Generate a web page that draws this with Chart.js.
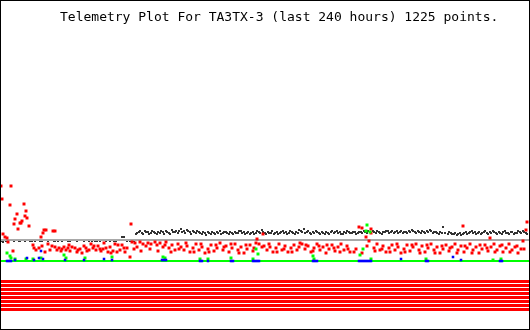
<!DOCTYPE html>
<html>
<head>
<meta charset="utf-8">
<script src="https://cdn.jsdelivr.net/npm/chart.js@4"></script>
<style>
  html, body { margin: 0; padding: 0; background: #fff; }
  #wrap { width: 530px; height: 330px; }
</style>
</head>
<body>
<div id="wrap"><canvas id="telemetry"></canvas></div>
<script>
var titleText = "Telemetry Plot For TA3TX-3 (last 240 hours) 1225 points.";

// black channel (x = sample column, y = plot units, top = 0)
var blackPts = [
  [1,241],[3,242],[6,241],[14,241],[19,241],[20,241],[25,241],[30,241],[32,241],[35,241],
  [40,241],[42,241],[48,241],[54,241],[55,241],[58,241],[62,241],[68,241],[70,241],[77,241],
  [84,241],[89,241],[92,241],[95,241],[97,241],[100,241],[106,241],[110,241],[114,241],[116,241],
  [122,237],[124,237],[127,241],[130,241],[134,241],
  [136,234],[139,232],[142,233],[145,231],[148,232],[151,233],[154,232],[157,234],[160,233],[163,232],
  [166,231],[169,233],[172,230],[175,232],[178,233],[181,229],[184,231],[187,230],[190,232],[193,231],
  [196,233],[199,232],[202,234],[205,233],[208,232],[211,234],[214,233],[217,232],[220,231],[223,233],
  [226,232],[229,234],[232,233],[235,232],[238,233],[241,231],[244,232],[247,233],[250,234],[253,232],
  [256,233],[259,232],[262,230],[265,233],[268,232],[271,233],[274,234],[277,232],[280,233],[283,231],
  [286,232],[289,233],[292,232],[295,234],[298,233],[301,231],[304,229],[307,232],[310,233],[313,232],
  [316,231],[319,233],[322,232],[325,234],[328,233],[331,232],[334,233],[337,231],[340,232],[343,234],
  [346,233],[349,232],[352,233],[355,232],[358,233],[361,232],[364,231],[367,233],[370,232],[373,231],
  [376,233],[379,232],[382,234],[385,232],[388,231],[391,232],[394,233],[397,231],[400,232],[403,233],
  [406,232],[409,231],[412,230],[415,232],[418,231],[421,233],[424,232],[427,231],[430,230],[433,233],
  [436,232],[439,234],[442,233],[443,227],[448,234],[451,233],[454,234],[457,235],[460,233],[463,234],
  [466,232],[469,233],[472,231],[475,232],[478,233],[481,234],[484,232],[487,233],[490,232],[493,231],
  [496,233],[499,232],[502,234],[505,231],[508,233],[511,232],[514,234],[517,233],[520,232],[523,231],
  [526,233],
  [137,233],[140,231],[143,234],[146,232],[149,234],[152,231],[155,233],[158,232],[161,231],[164,234],
  [167,232],[170,234],[173,232],[176,231],[179,231],[182,232],[185,233],[188,231],[191,234],[194,232],
  [197,231],[200,233],[203,232],[206,235],[209,233],[212,232],[215,234],[218,233],[221,234],[224,232],
  [227,233],[230,232],[233,234],[236,233],[239,231],[242,233],[245,234],[248,232],[251,233],[254,234],
  [257,231],[260,233],[263,232],[266,234],[269,233],[272,231],[275,233],[278,234],[281,232],[284,233],
  [287,234],[290,231],[293,233],[296,232],[299,230],[302,232],[305,233],[308,231],[311,234],[314,233],
  [317,232],[320,234],[323,233],[326,232],[329,234],[332,231],[335,232],[338,233],[341,234],[344,232],
  [347,231],[350,233],[353,232],[356,234],[359,232],[362,233],[365,232],[368,231],[371,233],[374,232],
  [377,231],[380,233],[383,232],[386,231],[389,233],[392,231],[395,232],[398,233],[401,231],[404,232],
  [407,233],[410,232],[413,231],[416,233],[419,232],[422,231],[425,233],[428,232],[431,231],[434,232],
  [437,233],[440,232],[445,233],[449,232],[452,234],[455,233],[458,234],[461,235],[464,233],[467,234],
  [470,232],[473,233],[476,234],[479,232],[482,233],[485,231],[488,234],[491,233],[494,232],[497,234],
  [500,233],[503,232],[506,233],[509,234],[512,232],[515,233],[518,231],[521,233],[524,232],[527,234]
];

// red channel
var redPts = [
  [1,186],[11,186],[2,199],[10,205],[24,204],[17,214],[26,211],[25,216],[15,219],[27,218],
  [22,221],[21,223],[14,224],[20,223],[29,226],[18,229],[3,234],[5,237],[7,238],[8,242],
  [44,230],[46,230],[53,231],[55,231],[43,233],[41,237],[13,251],[48,244],[33,245],[34,248],
  [36,250],[42,246],[50,250],[55,247],[57,250],[59,248],[62,249],[64,247],[66,250],[68,248],
  [70,251],[72,247],[75,248],[78,250],[80,249],[82,253],[84,246],[86,248],[89,250],[91,244],
  [93,248],[96,250],[98,246],[100,249],[101,251],[104,243],[106,248],[108,252],[111,253],[113,251],
  [115,244],[118,245],[120,250],[122,245],[125,252],[127,248],[130,257],[131,224],[132,242],[135,243],
  [137,247],[140,242],[143,244],[146,246],[148,243],[151,244],[155,242],[157,245],[160,243],[163,247],
  [166,242],[169,248],[172,245],[175,250],[178,244],[181,247],[184,250],[187,246],[190,252],[193,248],
  [196,244],[199,250],[202,247],[205,253],[208,249],[211,245],[214,251],[217,248],[220,243],[223,250],
  [226,246],[229,252],[232,248],[235,244],[238,250],[241,247],[244,253],[247,249],[250,245],[253,251],
  [256,243],[257,239],[259,244],[263,234],[264,246],[267,250],[270,247],[273,252],[276,248],[279,244],
  [282,250],[285,246],[288,252],[291,248],[294,245],[297,250],[300,243],[302,244],[305,249],[308,246],
  [311,252],[314,248],[317,244],[320,250],[323,247],[326,253],[329,249],[332,245],[335,251],[338,247],
  [341,244],[344,250],[347,246],[350,252],[354,252],[359,227],[362,228],[362,253],[366,237],[367,246],
  [371,229],[371,233],[374,248],[377,244],[380,250],[383,246],[386,252],[389,248],[392,245],[395,250],
  [398,247],[401,253],[404,249],[407,245],[410,251],[413,247],[416,244],[419,250],[422,246],[425,252],
  [428,248],[431,244],[434,250],[437,247],[440,253],[443,249],[446,245],[449,251],[452,247],[455,244],
  [458,250],[461,246],[463,226],[464,252],[467,248],[470,244],[473,250],[476,247],[479,253],[482,249],
  [485,245],[488,251],[490,238],[491,247],[494,244],[497,250],[500,246],[503,252],[506,248],[509,244],
  [512,250],[515,247],[518,253],[521,249],[523,241],[526,230],[527,222],
  [39,248],[45,252],[52,246],[61,251],[69,245],[77,252],[87,251],[94,246],[103,249],[110,247],
  [117,252],[124,248],[134,249],[141,251],[150,249],[158,251],[165,245],[171,252],[179,249],[186,243],
  [194,252],[201,244],[209,252],[216,245],[224,247],[231,244],[239,253],[246,245],[254,248],[262,247],
  [269,244],[277,252],[284,249],[292,252],[299,247],[306,245],[313,251],[319,246],[327,245],[334,248],
  [340,252],[348,249],[356,249],[369,241],[375,251],[382,249],[390,252],[397,244],[405,252],[412,245],
  [420,253],[427,245],[435,253],[442,246],[450,248],[457,253],[465,246],[472,253],[480,245],[487,248],
  [495,252],[502,245],[510,252],[517,246],[524,249]
];

// green channel
var greenPts = [
  [7,253],[10,256],[11,258],[15,259],[26,259],[33,259],[41,258],[64,255],[66,258],[85,258],
  [112,257],[163,257],[165,258],[200,259],[208,259],[231,258],[253,259],[256,249],[258,254],[313,256],
  [314,259],[360,255],[363,249],[366,231],[367,225],[370,232],[371,259],[426,259],[493,260],[501,259]
];

// blue channel
var bluePts = [
  [7,261],[9,261],[11,261],[15,260],[27,258],[34,260],[39,258],[41,251],[43,259],[65,260],
  [84,260],[104,259],[112,260],[162,260],[164,260],[166,260],[200,261],[202,261],[208,261],[231,261],
  [233,261],[253,261],[255,261],[257,261],[259,261],[313,261],[315,261],[317,261],[359,261],[361,261],
  [363,261],[365,261],[367,261],[369,261],[371,261],[401,259],[426,261],[428,261],[453,257],[461,260],
  [500,261],[502,261]
];

// reference levels
var grayLevel = 240;
var greenLevel = 261;
var stripeLevels = [281.5, 285.5, 289.5, 293.5, 297.5, 301.5, 305.5, 309.5];
var xStart = 1, xEnd = 529;

function toXY(arr) {
  return arr.map(function (p) { return { x: p[0], y: p[1] }; });
}
function hline(level, color, width, ord) {
  return {
    data: [{ x: xStart, y: level }, { x: xEnd, y: level }],
    showLine: true,
    borderColor: color,
    borderWidth: width,
    pointRadius: 0,
    order: ord
  };
}

var datasets = [];
datasets.push({ data: toXY(blackPts), backgroundColor: '#333333', pointStyle: 'rect', pointRadius: 1.42, borderWidth: 0, order: 9 });
datasets.push(hline(grayLevel, '#a8a8a8', 2, 8));
datasets.push({ data: toXY(redPts), backgroundColor: '#ff0000', pointStyle: 'rect', pointRadius: 2.1, borderWidth: 0, order: 7 });
datasets.push(hline(greenLevel, '#00ff00', 2, 6));
datasets.push({ data: toXY(greenPts), backgroundColor: '#00ff00', pointStyle: 'rect', pointRadius: 2.1, borderWidth: 0, order: 5 });
datasets.push({ data: toXY(bluePts), backgroundColor: '#0000ff', pointStyle: 'rect', pointRadius: 1.8, borderWidth: 0, order: 4 });
stripeLevels.forEach(function (lv) {
  datasets.push(hline(lv, '#ff0000', 3, 3));
});

var frame = {
  id: 'frame',
  afterDraw: function (chart) {
    var c = chart.ctx;
    c.save();
    c.strokeStyle = '#000';
    c.lineWidth = 1;
    c.strokeRect(0.5, 0.5, chart.width - 1, chart.height - 1);
    c.fillStyle = '#000';
    c.font = '13px "DejaVu Sans Mono"';
    c.textBaseline = 'alphabetic';
    c.fillText(titleText, 60, 21);
    c.restore();
  }
};

var ctx = document.getElementById("telemetry").getContext('2d');
var chart = new Chart(ctx, {
  type: 'scatter',
  data: { datasets: datasets },
  options: {
    animation: false,
    responsive: true,
    maintainAspectRatio: false,
    layout: { padding: 0, autoPadding: false },
    scales: {
      x: { type: 'linear', min: 0, max: 530, display: false },
      y: { type: 'linear', min: 0, max: 330, reverse: true, display: false }
    },
    plugins: {
      legend: { display: false },
      title: { display: false },
      tooltip: { enabled: false }
    }
  },
  plugins: [frame]
});
</script>
</body>
</html>
